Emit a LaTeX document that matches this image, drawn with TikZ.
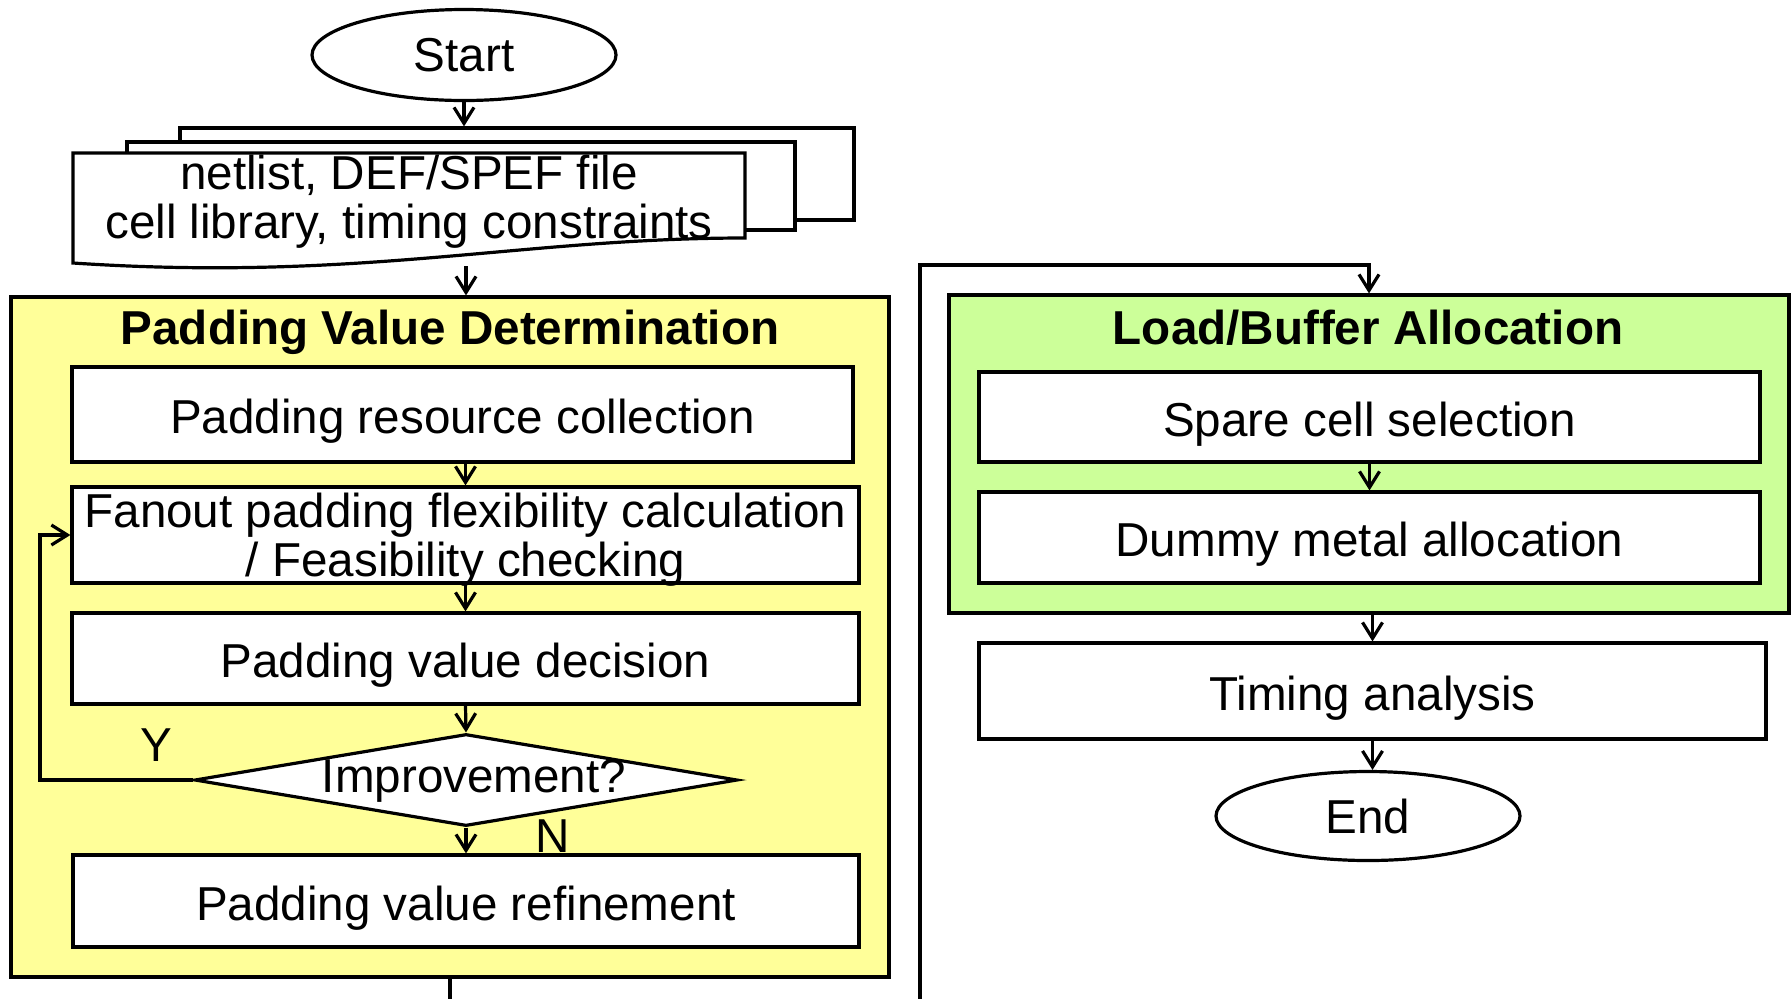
\documentclass[tikz,border=0pt]{standalone}
\usepackage{fontspec}
\setmainfont{Liberation Sans}
\usetikzlibrary{arrows.meta,shapes.geometric}
\definecolor{panelyellow}{RGB}{255,255,153}
\definecolor{panelgreen}{RGB}{204,255,153}
\tikzset{
  every node/.style={font=\fontsize{23.8}{24.5}\selectfont},
  titletext/.style={font=\bfseries\fontsize{23.8}{24.5}\selectfont, text depth=0pt},
  procbox/.style={draw, line width=1.6pt, fill=white, rectangle, inner sep=0pt, align=center},
  oneline/.style={text height=19.4pt, text depth=0pt},
  term/.style={draw, ellipse, line width=1.6pt, fill=white, inner sep=0pt},
  panel/.style={draw, line width=1.6pt, rectangle, inner sep=0pt},
  conn/.style={line width=1.6pt, -{Straight Barb[length=8pt,width=10pt,line width=1.6pt]}},
  plainline/.style={line width=1.6pt}
}
\begin{document}
\begin{tikzpicture}[x=0.5pt,y=-0.5pt]
\useasboundingbox (0,0) rectangle (1791,998);

% panels
\node[panel, fill=panelyellow, minimum width=439pt, minimum height=340pt] (pvd) at (450,637) {};
\node[titletext] (pvdtitle) at (450,327) {Padding Value Determination};
\node[panel, fill=panelgreen, minimum width=420pt, minimum height=159pt] (lba) at (1369,454) {};
\node[titletext] (lbatitle) at (1368,327) {Load/Buffer Allocation};

% start
\node[term, minimum width=152pt, minimum height=45.5pt] (start) at (464,55) {Start};

% multi document
\node[procbox, minimum width=337pt, minimum height=46pt] (docback) at (517,174) {};
\node[procbox, minimum width=334pt, minimum height=44pt] (docmid) at (461,186) {};
\draw[plainline, fill=white] (73,153) -- (745,153) -- (745,238)
   .. controls (520,238) and (360,282) .. (73,263) -- cycle;
\node[align=center] (docs) at (409,202) {netlist, DEF/SPEF file\\cell library, timing constraints};
\coordinate (docbot) at (466,266);

% left steps
\node[procbox, oneline, minimum width=390.5pt, minimum height=47.5pt] (b1) at (462.5,414.5) {Padding resource collection};
\node[procbox, text depth=0pt, minimum width=393.5pt, minimum height=48pt] (b2) at (465.5,535) {Fanout padding flexibility calculation\\/ Feasibility checking};
\node[procbox, oneline, minimum width=393.5pt, minimum height=45.5pt] (b3) at (465.5,658.5) {Padding value decision};
\node[draw, diamond, line width=1.6pt, fill=white, inner sep=0pt, minimum width=271.5pt, minimum height=46pt] (imp) at (466,780) {};
\node (imptext) at (474,781) {Improvement?};
\node[procbox, oneline, minimum width=393pt, minimum height=46pt] (b4) at (466,901) {Padding value refinement};
\node (ylab) at (156,745) {Y};
\node (nlab) at (553,836) {N};

% right steps
\node[procbox, oneline, minimum width=390.5pt, minimum height=45pt] (s1) at (1369.5,417) {Spare cell selection};
\node[procbox, oneline, minimum width=390.5pt, minimum height=45.5pt] (s2) at (1369.5,537.5) {Dummy metal allocation};
\node[procbox, oneline, minimum width=393.5pt, minimum height=48pt] (timing) at (1372.5,691) {Timing analysis};
\node[term, minimum width=152pt, minimum height=44.5pt] (end) at (1368,816) {End};

% connectors
\draw[conn] (start.south) -- (start.south |- docback.north);
\draw[conn] (docbot) -- (docbot |- pvd.north);
\draw[conn] (b2.north |- b1.south) -- (b2.north);
\draw[conn] (b2.south) -- (b3.north);
\draw[conn] (b3.south) -- (imp.north);
\draw[conn] (imp.south) -- (b4.north);
\draw[conn] (imp.west) -- ++(-153,0) |- (b2.west);
\coordinate (turn) at (920,265);
\draw[conn] (pvd.south) -- ++(0,45) -| (turn) -| (lba.north);
\draw[conn] (s1.south) -- (s2.north);
\draw[conn] (timing.north |- lba.south) -- (timing.north);
\draw[conn] (timing.south) -- (timing.south |- end.north);
\end{tikzpicture}
\end{document}
